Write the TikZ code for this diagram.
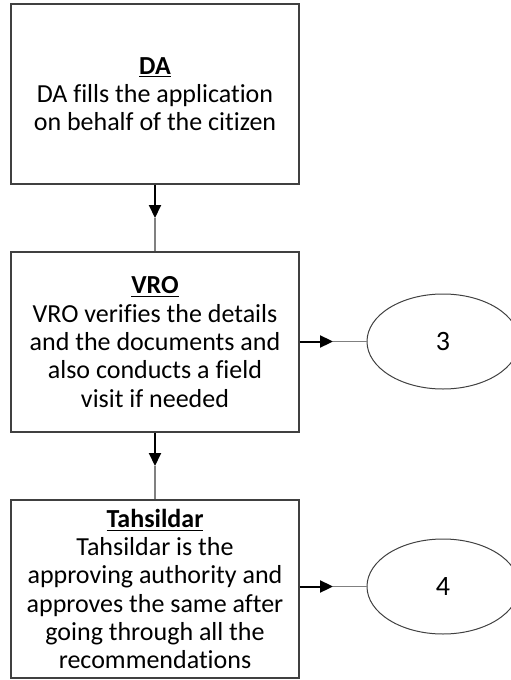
\documentclass[tikz,border=0pt]{standalone}
\usepackage{fontspec}
\setmainfont{Carlito}[Ligatures={NoCommon}]
\usetikzlibrary{positioning,shapes.geometric,arrows.meta,calc}

\tikzset{
  stepbox/.style={draw=black!75, line width=0.6pt, rectangle, minimum width=144pt,
    align=center, inner sep=1pt, font=\fontsize{13}{14.15}\selectfont},
  refoval/.style={draw=black!75, line width=0.5pt, ellipse, minimum width=76pt,
    minimum height=47.5pt, font=\fontsize{14}{16}\selectfont},
  headline/.style={line width=1pt, -{Triangle[length=6.5pt,width=6pt]}},
  tailline/.style={line width=0.7pt, color=black!50}
}

\begin{document}
\begin{tikzpicture}[x=0.5pt,y=-0.5pt]
\useasboundingbox (0,0) rectangle (510,680);

% boxes
\node[stepbox, minimum height=90pt] (da) at (155,94)
  {\textbf{\underline{DA}}\\DA fills the application\\on behalf of the citizen};
\node[stepbox, minimum height=90pt] (vro) at (155,342)
  {\textbf{\underline{VRO}}\\VRO verifies the details\\and the documents and\\also conducts a field\\visit if needed};
\node[stepbox, minimum height=89pt] (tah) at (155,589)
  {\textbf{\underline{Tahsildar}}\\Tahsildar is the\\approving authority and\\approves the same after\\going through all the\\recommendations};

% connectors
\node[refoval] (c3) at (443,341.5) {3};
\node[refoval] (c4) at (443,586.5) {4};

\coordinate (m1) at ($(da.south)!0.5!(vro.north)$);
\coordinate (m2) at ($(vro.south)!0.5!(tah.north)$);
\coordinate (m3) at ($(vro.east |- c3)!0.5!(c3.west)$);
\coordinate (m4) at ($(tah.east |- c4)!0.5!(c4.west)$);

\draw[headline] (da.south) -- (m1);
\draw[tailline] (m1) -- (vro.north);
\draw[headline] (vro.south) -- (m2);
\draw[tailline] (m2) -- (tah.north);
\draw[headline] (vro.east |- c3) -- (m3);
\draw[tailline] (m3) -- (c3.west);
\draw[headline] (tah.east |- c4) -- (m4);
\draw[tailline] (m4) -- (c4.west);
\end{tikzpicture}
\end{document}
